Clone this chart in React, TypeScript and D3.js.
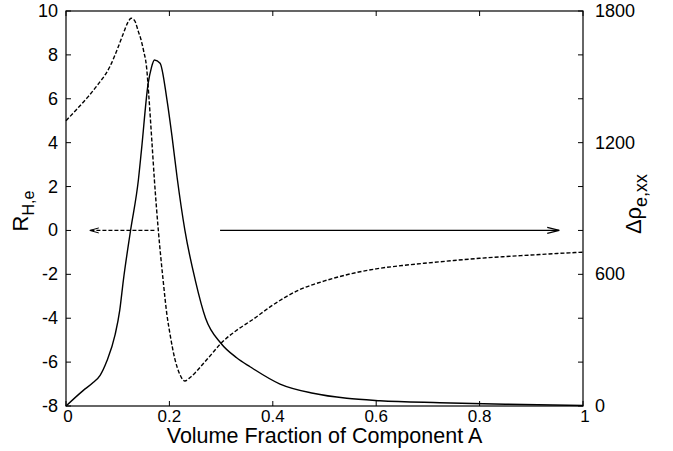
import React from "react";
import * as d3 from "d3";

// Hall coefficient R_H,e (left axis) - dashed
const rhX = [0, 0.02, 0.043, 0.06, 0.085, 0.1, 0.111, 0.12, 0.126, 0.133, 0.14, 0.145, 0.15, 0.156, 0.16, 0.166, 0.171, 0.1786, 0.188, 0.195, 0.201, 0.211, 0.22, 0.23, 0.24, 0.25, 0.26, 0.28, 0.3, 0.33, 0.36, 0.4, 0.45, 0.5, 0.55, 0.6, 0.65, 0.7, 0.75, 0.8, 0.85, 0.9, 0.95, 1.0];
const rhY = [5.0, 5.5, 6.1, 6.6, 7.47, 8.3, 8.98, 9.5, 9.67, 9.55, 9.06, 8.7, 8.2, 7.4, 6.2, 4.1, 2.3, 0, -2.3, -3.8, -4.7, -5.9, -6.55, -6.86, -6.7, -6.48, -6.22, -5.68, -5.14, -4.55, -4.08, -3.4, -2.72, -2.3, -1.98, -1.75, -1.6, -1.48, -1.37, -1.27, -1.19, -1.12, -1.05, -0.99];

// Magnetoresistance Δρ_e,xx (right axis) - solid
const drX = [0, 0.033, 0.053, 0.066, 0.079, 0.095, 0.104, 0.111, 0.125, 0.14, 0.146, 0.159, 0.165, 0.171, 0.182, 0.195, 0.205, 0.215, 0.23, 0.25, 0.27, 0.3, 0.33, 0.356, 0.414, 0.478, 0.543, 0.607, 0.723, 0.85, 1.0];
const drY = [0, 70, 108, 140, 205, 325, 437, 574, 802, 1030, 1167, 1471, 1540, 1577, 1562, 1400, 1230, 1040, 800, 574, 400, 285, 220, 179, 100, 58, 35, 24, 15, 8, 2];

const xTicks = [0, 0.2, 0.4, 0.6, 0.8, 1];
const xTickLabels = ["0", "0.2", "0.4", "0.6", "0.8", "1"];
const leftTicks = [-8, -6, -4, -2, 0, 2, 4, 6, 8, 10];
const rightTicks = [0, 200, 400, 600, 800, 1000, 1200, 1400, 1600, 1800];
const rightLabeled = [0, 600, 1200, 1800];

// arrows (data coords, at R_H,e = 0)
const dashArrow = [0.171, 0.046];
const solidArrow = [0.298, 0.954];

const W = 673, H = 451;
const L = 66, R = 583, T = 11, B = 406;
const FONT = "'Liberation Sans', Arial, Helvetica, sans-serif";

export default function App() {
  const x = d3.scaleLinear().domain([0, 1]).range([L, R]);
  const yL = d3.scaleLinear().domain([-8, 10]).range([B, T]);
  const yR = d3.scaleLinear().domain([0, 1800]).range([B, T]);

  const rhLine = d3.line<number>().x((_, i) => x(rhX[i])).y((d) => yL(d)).curve(d3.curveMonotoneX);
  const drLine = d3.line<number>().x((_, i) => x(drX[i])).y((d) => yR(d)).curve(d3.curveMonotoneX);

  const tk = 5;
  const ay = yL(0);

  const head = (tipX: number, dir: number, len: number, hw: number) =>
    `M${tipX - dir * len},${ay - hw}L${tipX},${ay}L${tipX - dir * len},${ay + hw}`;

  return (
    <svg width={W} height={H} style={{ position: "absolute", left: 0, top: 0, background: "#fff" }} fontFamily={FONT}>
      <rect x={0} y={0} width={W} height={H} fill="#fff" />
      {/* curves */}
      <path d={rhLine(rhY) || ""} fill="none" stroke="#000" strokeWidth={1.4} strokeDasharray="4,2" />
      <path d={drLine(drY) || ""} fill="none" stroke="#000" strokeWidth={1.4} />

      {/* arrows */}
      <line x1={x(dashArrow[0])} x2={x(dashArrow[1])} y1={ay} y2={ay} stroke="#000" strokeWidth={1.2} strokeDasharray="4,2" />
      <path d={head(x(dashArrow[1]), -1, 9, 2.5)} fill="none" stroke="#000" strokeWidth={1} />
      <line x1={x(solidArrow[0])} x2={x(solidArrow[1])} y1={ay} y2={ay} stroke="#000" strokeWidth={1.2} />
      <path d={head(x(solidArrow[1]), 1, 12, 3)} fill="none" stroke="#000" strokeWidth={1.2} />

      {/* frame */}
      <rect x={L} y={T} width={R - L} height={B - T} fill="none" stroke="#000" strokeWidth={1.2} />

      {/* x ticks */}
      {xTicks.map((t, i) => (
        <g key={"x" + i}>
          <line x1={x(t)} x2={x(t)} y1={B} y2={B - tk} stroke="#000" />
          <line x1={x(t)} x2={x(t)} y1={T} y2={T + tk} stroke="#000" />
          <text x={x(t) + (i === 0 ? 2 : i === xTicks.length - 1 ? 2 : 0)} y={416} textAnchor="middle" dominantBaseline="central" fontSize={17}>
            {xTickLabels[i]}
          </text>
        </g>
      ))}
      {/* left ticks */}
      {leftTicks.map((t) => (
        <g key={"l" + t}>
          <line x1={L} x2={L + tk} y1={yL(t)} y2={yL(t)} stroke="#000" />
          <text x={58} y={yL(t)} textAnchor="end" dominantBaseline="central" fontSize={18}>
            {t}
          </text>
        </g>
      ))}
      {/* right ticks */}
      {rightTicks.map((t) => (
        <line key={"r" + t} x1={R} x2={R - tk} y1={yR(t)} y2={yR(t)} stroke="#000" />
      ))}
      {rightLabeled.map((t) => (
        <text key={"rl" + t} x={595} y={yR(t)} textAnchor="start" dominantBaseline="central" fontSize={18}>
          {t}
        </text>
      ))}

      {/* axis titles */}
      <text x={(L + R) / 2} y={443} textAnchor="middle" fontSize={21.5}>
        Volume Fraction of Component A
      </text>
      <text transform="translate(28,211) rotate(-90)" textAnchor="middle" fontSize={22}>
        R<tspan fontSize={16} dy={6}>H,e</tspan>
      </text>
      <text transform="translate(641,204) rotate(-90)" textAnchor="middle" fontSize={22}>
        Δρ<tspan fontSize={18} dy={6}>e,xx</tspan>
      </text>
    </svg>
  );
}
